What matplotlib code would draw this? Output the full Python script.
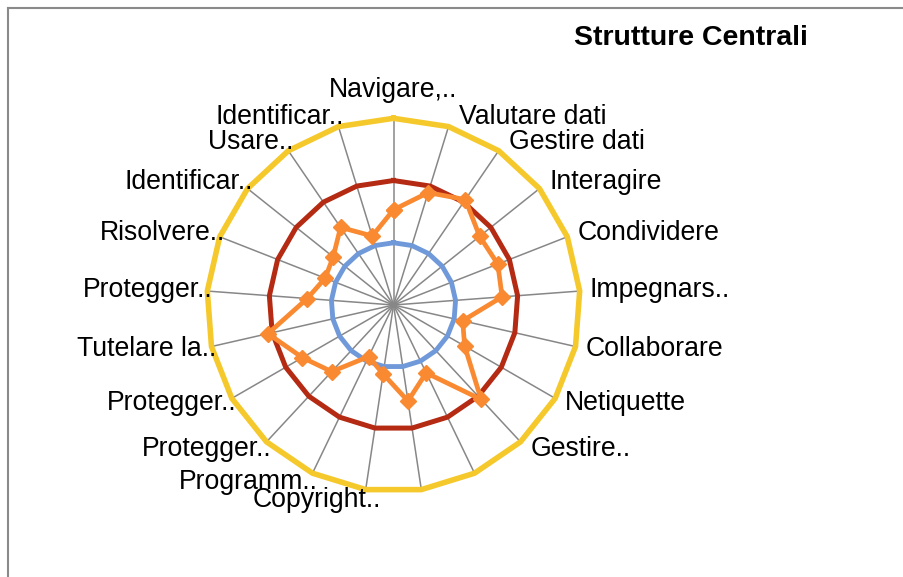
import numpy as np
import matplotlib.pyplot as plt
from matplotlib.lines import Line2D

plt.rcParams['font.family'] = ['Liberation Sans', 'DejaVu Sans']

# Competenze (ordine in senso orario a partire dall'alto)
competenze = [
    "Navigare, ricercare e filtrare dati", "Valutare dati", "Gestire dati",
    "Interagire", "Condividere", "Impegnarsi nella cittadinanza", "Collaborare",
    "Netiquette", "Gestire l'identità digitale", "Sviluppare contenuti",
    "Integrare e rielaborare", "Copyright e licenze", "Programmazione",
    "Proteggere i dispositivi", "Proteggere i dati personali",
    "Tutelare la salute", "Proteggere l'ambiente", "Risolvere problemi tecnici",
    "Identificare i bisogni", "Usare in modo creativo", "Identificare i divari",
]
# etichette come mostrate (due sono nascoste nel grafico originale)
etichette = [
    "Navigare,..", "Valutare dati", "Gestire dati", "Interagire", "Condividere",
    "Impegnars..", "Collaborare", "Netiquette", "Gestire..", "", "",
    "Copyright..", "Programm..", "Protegger..", "Protegger..", "Tutelare la..",
    "Protegger..", "Risolvere..", "Identificar..", "Usare..", "Identificar..",
]
valori = [1.53, 1.89, 2.05, 1.77, 1.80, 1.75, 1.14, 1.32, 2.07, 1.21, 1.56,
          1.12, 0.92, 1.46, 1.69, 2.07, 1.39, 1.18, 1.24, 1.51, 1.16]
base = [1] * 21
intermedio = [2] * 21
avanzato = [3] * 21

n = len(competenze)
theta = np.arange(n) * 2 * np.pi / n
theta_c = np.append(theta, theta[0])

def chiudi(v):
    return list(v) + [v[0]]

W, H = 904, 577
cx, cy, R = 393.5, 305, 186.7

fig = plt.figure(figsize=(W / 100, H / 100), dpi=100)
ax = fig.add_axes([(cx - R) / W, (H - cy - R) / H, 2 * R / W, 2 * R / H],
                  projection='polar')
ax.set_theta_zero_location('N')
ax.set_theta_direction(-1)
ax.set_ylim(0, 3)
ax.set_axis_off()

# raggi
for t in theta:
    ax.plot([t, t], [0, 3], color='#878787', lw=1.1, zorder=1)

ax.plot(theta_c, chiudi(base), color='#7099DA', lw=3.5, zorder=2, clip_on=False)
ax.plot(theta_c, chiudi(intermedio), color='#B42A12', lw=3.6, zorder=2, clip_on=False)
ax.plot(theta_c, chiudi(avanzato), color='#F5C92C', lw=4.0, zorder=2, clip_on=False)
ax.plot(theta_c, chiudi(valori), color='#F98A32', lw=3.4, marker='D', ms=8.5,
        zorder=5, clip_on=False)

# etichette delle categorie
px = 0.72
for t, lab in zip(theta, etichette):
    if not lab:
        continue
    s, c = np.sin(t), np.cos(t)
    if abs(s) < 0.05:
        ha, dx, dy = 'center', 0, 28
    elif s > 0:
        ha, dx, dy = 'left', 10, 10 * c
    else:
        ha, dx, dy = 'right', 5, 10 * c
        if abs(s) < 0.2:
            dx = 15
    ax.annotate(lab, xy=(t, 3), xytext=(dx * px, dy * px),
                textcoords='offset points', ha=ha, va='center', fontsize=19.2)

fig.text(690.5 / W, 1 - 38 / H, 'Strutture Centrali', ha='center', va='center',
         fontsize=20.5, fontweight='bold')

# bordo dell'area del grafico
fig.add_artist(Line2D([8 / W, 1], [1 - 8 / H, 1 - 8 / H], color='#8a8a8a', lw=1.5))
fig.add_artist(Line2D([8 / W, 8 / W], [0, 1 - 8 / H], color='#8a8a8a', lw=1.5))

fig.savefig('out.png', dpi=100)
